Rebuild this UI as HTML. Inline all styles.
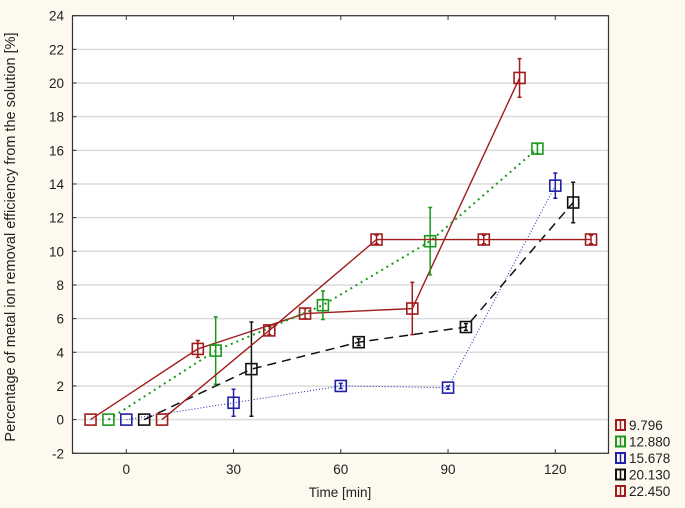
<!DOCTYPE html>
<html><head><meta charset="utf-8"><style>
body{margin:0;background:#fdf9ee;}
svg{display:block;font-family:"Liberation Sans",sans-serif;}
</style></head><body>
<svg id="chart" width="685" height="508" xmlns="http://www.w3.org/2000/svg">
<rect x="0" y="0" width="685" height="508" fill="#fdf9ee"/>
<rect x="72.5" y="15.7" width="536" height="437.6" fill="#ffffff"/>
<g id="grid"></g>
<g id="series"></g>
<rect x="72.5" y="15.7" width="536" height="437.6" fill="none" stroke="#333" stroke-width="1.2"/>
<g id="axes"></g>
<text x="15" y="237" transform="rotate(-90 15 237)" text-anchor="middle" font-size="14.5" fill="#222">Percentage of metal ion removal efficiency from the solution [%]</text>
<text x="340" y="497" text-anchor="middle" font-size="13.5" fill="#222">Time [min]</text>
<g id="legend"></g>
</svg>
<script>
const seriesNames = ["9.796","12.880","15.678","20.130","22.450"];
const xs1 = [-10,20,50,80,110];
const ys1 = [0,4.2,6.3,6.6,20.3];
const es1 = [0,0.5,0.3,1.55,1.15];
const xs2 = [-5,25,55,85,115];
const ys2 = [0,4.1,6.8,10.6,16.1];
const es2 = [0,2.0,0.85,2.0,0.3];
const xs3 = [0,30,60,90,120];
const ys3 = [0,1.0,2.0,1.9,13.9];
const es3 = [0,0.8,0.15,0.1,0.75];
const xs4 = [5,35,65,95,125];
const ys4 = [0,3.0,4.6,5.5,12.9];
const es4 = [0,2.8,0.2,0.2,1.2];
const xs5 = [10,40,70,100,130];
const ys5 = [0,5.3,10.7,10.7,10.7];
const es5 = [0,0.25,0.25,0.25,0.25];
const xTicks = [0,30,60,90,120];
const yTicks = [-2,0,2,4,6,8,10,12,14,16,18,20,22,24];

const NS="http://www.w3.org/2000/svg";
function X(v){return 126.3+(v)*107.25/30;}
function Y(v){return 419.6-v*16.83;}
function mk(tag,attrs,parent){const e=document.createElementNS(NS,tag);for(const k in attrs)e.setAttribute(k,attrs[k]);parent.appendChild(e);return e;}
const grid=document.getElementById('grid'),axes=document.getElementById('axes'),ser=document.getElementById('series'),leg=document.getElementById('legend');
yTicks.forEach(t=>{
  const g=mk('line',{x1:72.5,x2:608.5,y1:Y(t),y2:Y(t),stroke:'#dcdcdc','stroke-width':1.5},grid);
  
  
  const tk=mk('line',{x1:72.5,x2:76.5,y1:Y(t),y2:Y(t),stroke:'#333'},axes);
  
  
  const tx=mk('text',{x:64,y:Y(t)+5,'text-anchor':'end','font-size':13.5,fill:'#222'},axes);
  tx.textContent=t;
  
  
});
xTicks.forEach(t=>{
  const tk=mk('line',{x1:X(t),x2:X(t),y1:453.3,y2:449,stroke:'#333'},axes);
  
  
  const tk2=mk('line',{x1:X(t),x2:X(t),y1:15.7,y2:20,stroke:'#333'},axes);
  
  
  const tx=mk('text',{x:X(t),y:474,'text-anchor':'middle','font-size':13.5,fill:'#222'},axes);
  tx.textContent=t;
  
  
});
const S=[
 {xs:xs1,ys:ys1,es:es1,c:'#a01c1c',dash:'',w:1.4},
 {xs:xs2,ys:ys2,es:es2,c:'#1c991c',dash:'2 4',w:2},
 {xs:xs3,ys:ys3,es:es3,c:'#2020a8',dash:'1 2',w:1},
 {xs:xs4,ys:ys4,es:es4,c:'#111111',dash:'9 6',w:1.5},
 {xs:xs5,ys:ys5,es:es5,c:'#a01c1c',dash:'',w:1.4}
];
S.forEach((s,i)=>{
  const g=mk('g',{},ser);
  
  
  const pts=s.xs.map((x,j)=>X(x)+','+Y(s.ys[j])).join(' ');
  const pl=mk('polyline',{points:pts,fill:'none',stroke:s.c,'stroke-width':s.w,'stroke-dasharray':s.dash},g);
  
  
  s.xs.forEach((x,j)=>{
    const cx=X(x),cy=Y(s.ys[j]),e=s.es[j];
    if(e>0){
      const eb=mk('path',{d:`M${cx},${Y(s.ys[j]+e)}V${Y(s.ys[j]-e)}M${cx-2},${Y(s.ys[j]+e)}h4M${cx-2},${Y(s.ys[j]-e)}h4`,stroke:s.c,'stroke-width':1.5,fill:'none'},g);
      
      
    }
    const m=mk('rect',{x:cx-5.5,y:cy-5.5,width:11,height:11,fill:'none',stroke:s.c,'stroke-width':1.6},g);
    
    
  });
});
seriesNames.forEach((n,i)=>{
  const y=425+i*16.5,c=S[i].c;
  const g=mk('g',{},leg);
  
  
  mk('rect',{x:616,y:y-5,width:9,height:10,fill:'none',stroke:c,'stroke-width':2},g);
  mk('line',{x1:620.5,x2:620.5,y1:y-5,y2:y+5,stroke:c,'stroke-width':1.5},g);
  const t=mk('text',{x:629,y:y+5,'font-size':13.5,fill:'#222'},g);
  t.textContent=n;
});
</script>
</body></html>
